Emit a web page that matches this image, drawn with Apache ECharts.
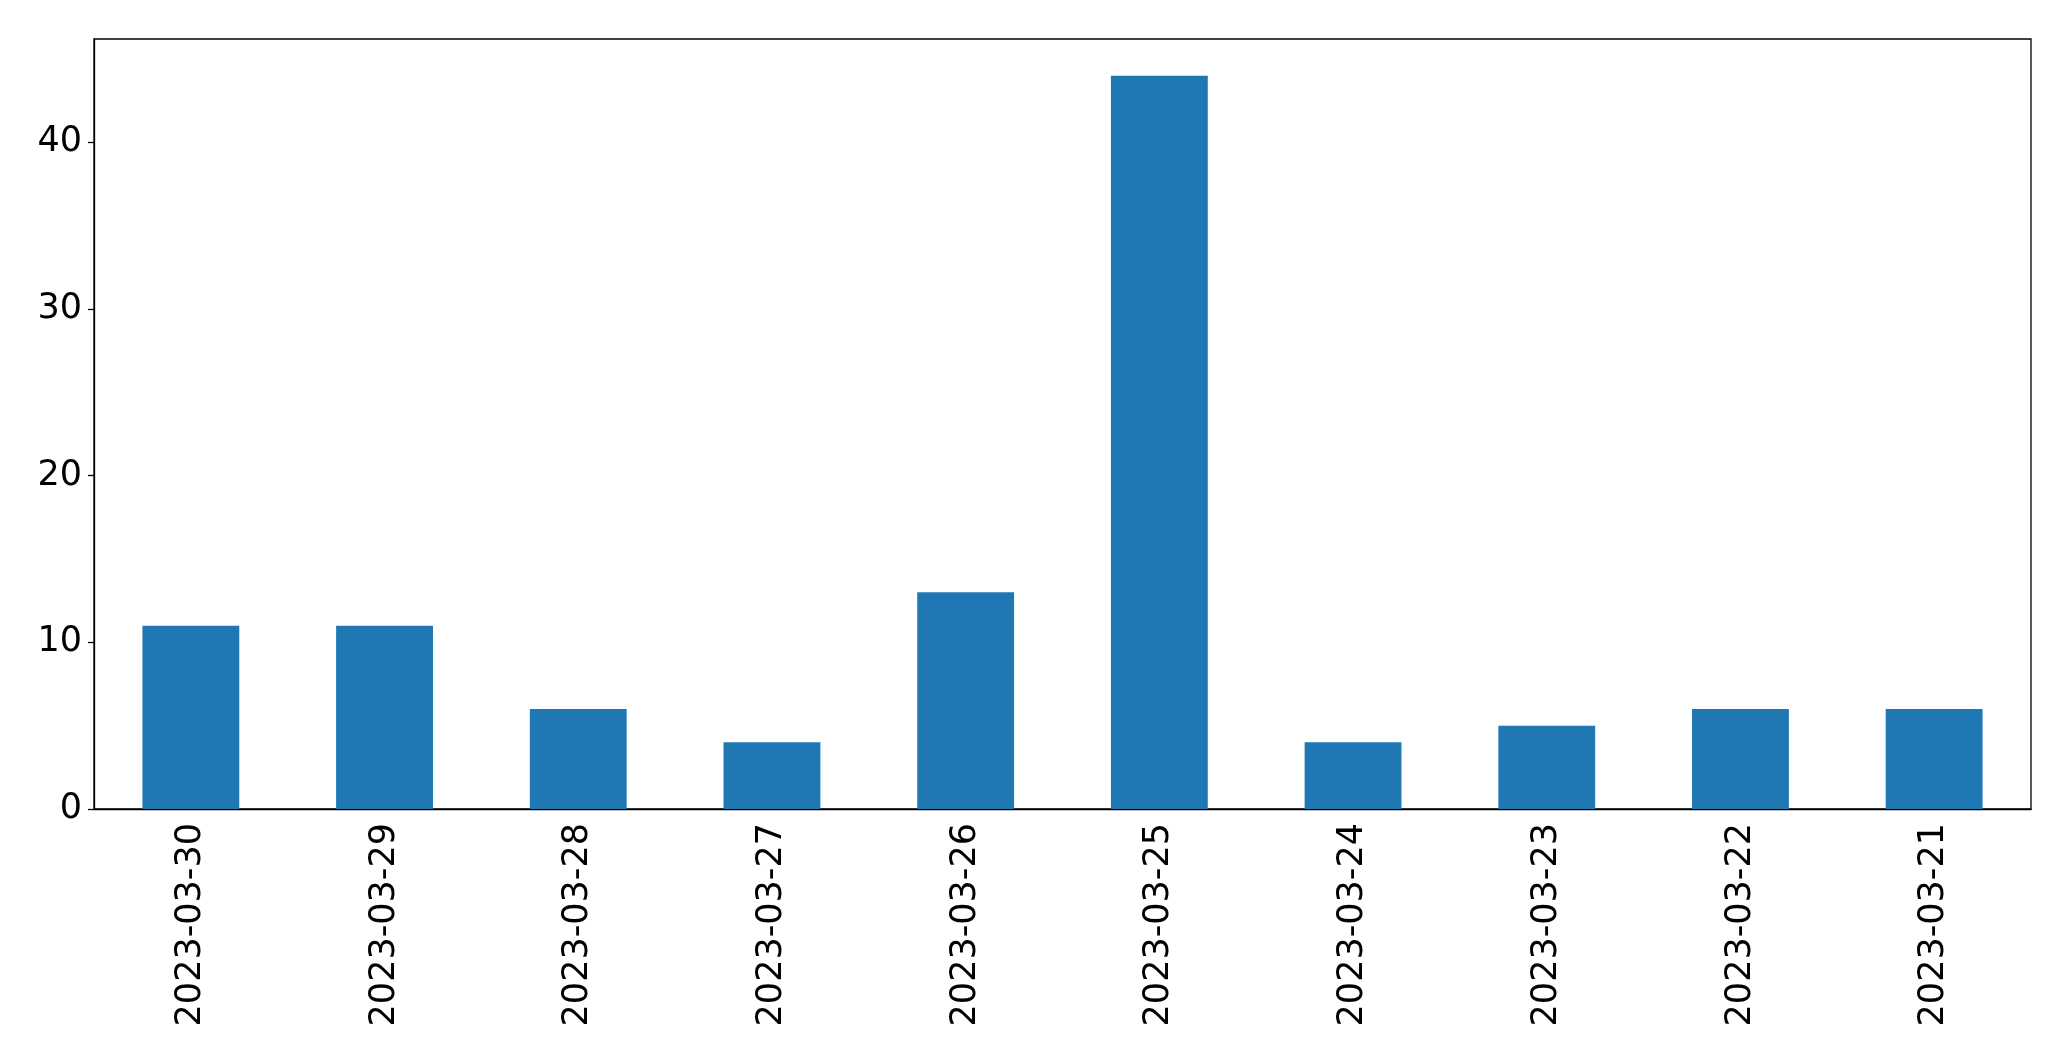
<!DOCTYPE html>
<html>
<head>
<meta charset="utf-8">
<script src="https://cdn.jsdelivr.net/npm/echarts@6/dist/echarts.min.js"></script>
<style>html,body{margin:0;padding:0;background:#fff;}#c{width:2071px;height:1061px;}</style>
</head>
<body>
<div id="c"></div>
<script>
const categories = ['2023-03-30','2023-03-29','2023-03-28','2023-03-27','2023-03-26','2023-03-25','2023-03-24','2023-03-23','2023-03-22','2023-03-21'];
const values = [11, 11, 6, 4, 13, 44, 4, 5, 6, 6];
const yTicks = [0, 10, 20, 30, 40];

const chart = echarts.init(document.getElementById('c'), null, {renderer: 'canvas'});
chart.setOption({
  animation: false,
  backgroundColor: '#ffffff',
  grid: {left: 94, right: 40, top: 39, bottom: 252, show: true, borderColor: '#000', borderWidth: 1.3, backgroundColor: 'transparent'},
  xAxis: {
    type: 'category',
    data: categories,
    boundaryGap: true,
    axisLine: {lineStyle: {color: '#000', width: 1.3}},
    axisTick: {alignWithLabel: true, length: 6, lineStyle: {color: '#000', width: 1.3}},
    axisLabel: {rotate: 90, fontSize: 35, fontFamily: 'DejaVu Sans', color: '#000', margin: 14, interval: 0}
  },
  yAxis: {
    type: 'value',
    min: 0,
    max: 46.2,
    interval: 10,
    splitLine: {show: false},
    axisLine: {show: true, lineStyle: {color: '#000', width: 1.3}},
    axisTick: {show: true, length: 6, lineStyle: {color: '#000', width: 1.3}},
    axisLabel: {fontSize: 35, fontFamily: 'DejaVu Sans', color: '#000', margin: 12, showMaxLabel: false,
      formatter: function(v){ return yTicks.indexOf(v) >= 0 ? String(v) : ''; }}
  },
  series: [{
    type: 'bar',
    data: values,
    barWidth: '50%',
    itemStyle: {color: '#1f77b4'}
  }]
});
</script>
</body>
</html>
